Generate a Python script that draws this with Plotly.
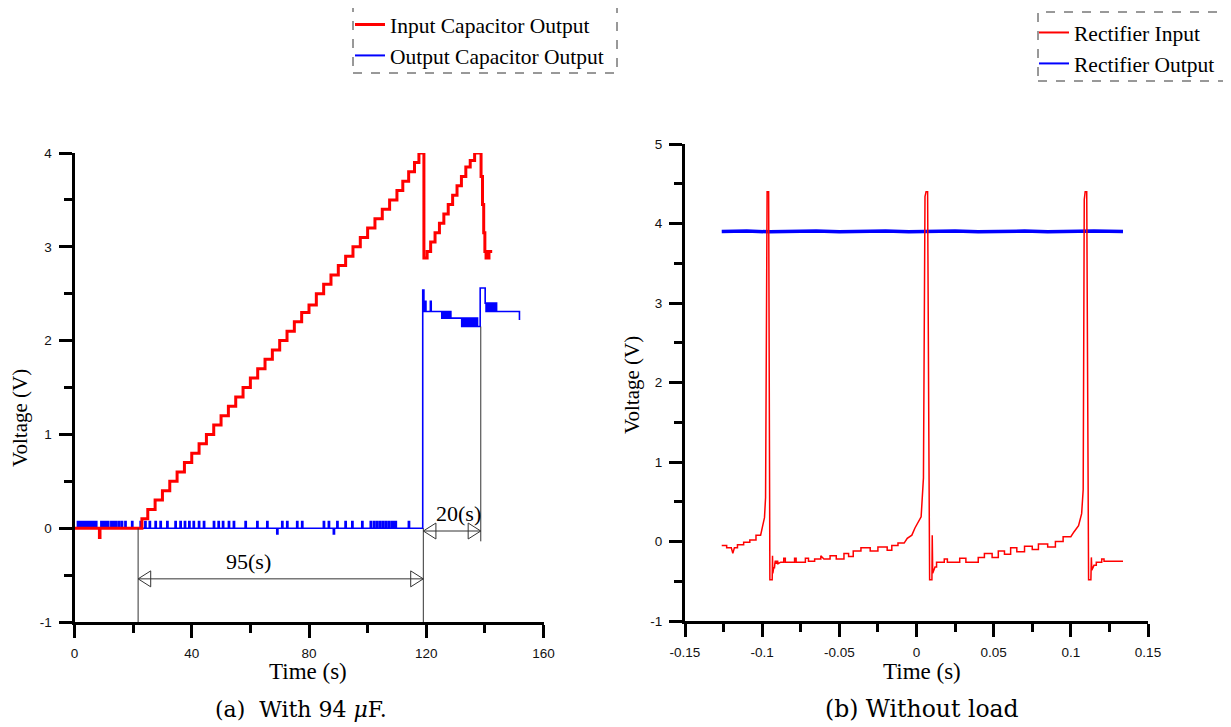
import plotly.graph_objects as go

# ---------------- data: (a) With 94 uF ----------------
# Input capacitor output (red), staircase points (line_shape hv)
in_cap_t = [0, 8.3, 8.5, 8.7, 21.7,
            23.0, 25.0, 27.5, 30.0, 32.5, 35.0, 37.5, 40.0, 42.5, 45.0,
            47.5, 50.0, 52.5, 55.0, 57.5, 60.0, 62.5, 65.0, 67.5, 70.0,
            72.5, 75.0, 77.5, 80.0, 82.5, 85.0, 87.5, 90.0, 92.5, 95.0,
            97.5, 100.0, 102.5, 105.0, 107.5, 110.0, 112.0, 114.0, 116.0, 117.5,
            119.2, 120.3, 121.5, 123.0, 124.5, 126.0, 127.5, 129.0, 130.5, 132.0,
            133.5, 135.0, 136.5, 138.7, 139.2, 139.6, 140.0, 140.4, 141.4, 142.5]
in_cap_v = [0, 0, -0.10, 0, 0,
            0.10, 0.20, 0.30, 0.40, 0.50, 0.60, 0.70, 0.80, 0.90, 1.00,
            1.10, 1.20, 1.30, 1.40, 1.50, 1.60, 1.70, 1.80, 1.90, 2.00,
            2.10, 2.20, 2.30, 2.38, 2.50, 2.60, 2.70, 2.80, 2.90, 3.00,
            3.10, 3.20, 3.30, 3.40, 3.50, 3.60, 3.70, 3.80, 3.90, 4.00,
            2.88, 2.95, 3.05, 3.15, 3.25, 3.35, 3.45, 3.55, 3.65, 3.75,
            3.85, 3.92, 4.00, 3.75, 3.45, 3.15, 2.95, 2.88, 2.95, 2.95]

# Output capacitor output (blue): baseline spikes before switching
out_spike_up_t = [1.0, 1.6, 2.3, 3.0, 3.6, 4.4, 5.0, 5.8, 6.5, 7.2, 9.0, 9.7,
                  10.5, 11.3, 12.4, 13.2, 14.0, 15.0, 16.0, 17.2, 19.5, 22.4,
                  24.0, 25.5, 27.5, 29.2, 31.5, 34.3, 36.0, 37.5, 39.0, 40.5,
                  42.3, 44.0, 47.4, 49.0, 50.5, 52.5, 54.2, 58.2, 62.2, 65.6,
                  70.7, 72.4, 75.8, 77.5, 84.9, 86.6, 89.5, 92.3, 94.6, 98.0,
                  100.9, 102.0, 103.0, 104.0, 105.0, 106.0, 107.0, 108.0, 108.8,
                  109.4, 113.9]
out_spike_up_v = 0.07
out_spike_down_t = [69.0, 88.3]
out_spike_down_v = -0.06
# Output capacitor output after switching (line_shape hv)
out_cap_t2 = [118.8, 119.2, 119.6, 119.9, 121.4, 121.7,
              125.3, 125.6, 125.9, 126.2, 126.5, 126.8, 127.1, 127.4, 127.7, 128.0, 128.4,
              132.1, 132.4, 132.7, 133.0, 133.3, 133.6, 133.9, 134.2, 134.5, 134.8,
              135.1, 135.4, 135.7, 136.0, 136.3, 136.6, 136.9, 137.2, 137.5, 137.8,
              138.4, 140.1, 140.4, 140.7, 141.0, 141.3, 141.6, 141.9, 142.2, 142.5,
              142.8, 143.1, 143.4, 143.7, 144.0, 144.5, 151.8]
out_cap_v2 = [2.54, 2.31, 2.42, 2.31, 2.42, 2.31,
              2.24, 2.31, 2.24, 2.31, 2.24, 2.31, 2.24, 2.31, 2.24, 2.31, 2.24,
              2.15, 2.24, 2.15, 2.24, 2.15, 2.24, 2.15, 2.24, 2.15, 2.24,
              2.15, 2.24, 2.15, 2.24, 2.15, 2.24, 2.15, 2.24, 2.15, 2.15,
              2.56, 2.40, 2.31, 2.40, 2.31, 2.40, 2.31, 2.40, 2.31, 2.40,
              2.31, 2.40, 2.31, 2.40, 2.31, 2.31, 2.22]

# dimension annotations (time markers, seconds)
charge_start = 21.7
charge_end = 119.0
recharge_end = 138.6
dim95_level = -0.54
dim20_level = -0.03
dim95_label = "95(s)"
dim20_label = "20(s)"
dim95_label_t = 59.2
dim20_label_t = 130.9

# ---------------- data: (b) Without load ----------------
rect_in_t = [-0.1262, -0.1230, -0.1230, -0.1200, -0.1190, -0.1180, -0.1160, -0.1160, -0.1120, -0.1120,
             -0.1080, -0.1080, -0.1040, -0.1040, -0.1010, -0.1000, -0.0985, -0.0978, -0.0972, -0.0968,
             -0.0958, -0.0954, -0.0950, -0.0935, -0.0933, -0.0931, -0.0925, -0.0920, -0.0918, -0.0915,
             -0.0912, -0.0908, -0.0905, -0.0900, -0.0897, -0.0880, -0.0860, -0.0860, -0.0850, -0.0850,
             -0.0790, -0.0790, -0.0780, -0.0780, -0.0720, -0.0720, -0.0700, -0.0700, -0.0660, -0.0660,
             -0.0620, -0.0620, -0.0600, -0.0560, -0.0560, -0.0520, -0.0520, -0.0470, -0.0470, -0.0440,
             -0.0440, -0.0410, -0.0410, -0.0360, -0.0360, -0.0300, -0.0300, -0.0250, -0.0250, -0.0190,
             -0.0190, -0.0160, -0.0160, -0.0120, -0.0120, -0.0080, -0.0060, -0.0030, -0.0010, 0.0030,
             0.0045, 0.0055, 0.0062, 0.0072, 0.0080, 0.0085, 0.0100, 0.0102, 0.0105, 0.0120,
             0.0130, 0.0130, 0.0180, 0.0180, 0.0200, 0.0200, 0.0280, 0.0280, 0.0320, 0.0320,
             0.0400, 0.0400, 0.0440, 0.0440, 0.0490, 0.0490, 0.0530, 0.0530, 0.0570, 0.0570,
             0.0610, 0.0610, 0.0650, 0.0650, 0.0700, 0.0700, 0.0750, 0.0750, 0.0790, 0.0790,
             0.0850, 0.0850, 0.0900, 0.0900, 0.0950, 0.0950, 0.1000, 0.1020, 0.1050, 0.1070,
             0.1080, 0.1087, 0.1093, 0.1103, 0.1110, 0.1115, 0.1130, 0.1133, 0.1136, 0.1150,
             0.1165, 0.1165, 0.1200, 0.1200, 0.1215, 0.1215, 0.1338]
rect_in_v = [-0.05, -0.05, -0.08, -0.08, -0.15, -0.08, -0.08, -0.04, -0.04, -0.01,
             -0.01, 0.02, 0.02, 0.08, 0.08, 0.17, 0.30, 0.55, 4.30, 4.40,
             4.40, 1.30, -0.48, -0.48, -0.18, -0.40, -0.33, -0.33, -0.28, -0.24,
             -0.28, -0.24, -0.28, -0.24, -0.28, -0.26, -0.26, -0.21, -0.21, -0.26,
             -0.26, -0.21, -0.21, -0.26, -0.26, -0.21, -0.21, -0.25, -0.25, -0.22,
             -0.22, -0.18, -0.22, -0.22, -0.18, -0.18, -0.22, -0.22, -0.15, -0.15,
             -0.19, -0.19, -0.12, -0.12, -0.08, -0.08, -0.12, -0.12, -0.07, -0.07,
             -0.11, -0.11, -0.05, -0.05, -0.02, -0.02, 0.04, 0.08, 0.17, 0.31,
             0.80, 4.34, 4.40, 4.40, 1.30, -0.48, -0.48, 0.08, -0.40, -0.32,
             -0.32, -0.26, -0.26, -0.22, -0.22, -0.26, -0.26, -0.21, -0.21, -0.26,
             -0.26, -0.20, -0.20, -0.15, -0.15, -0.20, -0.20, -0.12, -0.12, -0.16,
             -0.16, -0.08, -0.08, -0.13, -0.13, -0.06, -0.06, -0.10, -0.10, -0.03,
             -0.03, -0.07, -0.07, 0.00, 0.00, 0.06, 0.06, 0.12, 0.20, 0.35,
             0.65, 4.30, 4.40, 4.40, 1.30, -0.48, -0.48, -0.20, -0.36, -0.30,
             -0.30, -0.26, -0.26, -0.22, -0.22, -0.25, -0.25]

rect_out_t = [-0.1262, -0.110, -0.095, -0.080, -0.065, -0.050, -0.035, -0.020, -0.005,
              0.010, 0.025, 0.040, 0.055, 0.070, 0.085, 0.100, 0.115, 0.1338]
rect_out_v = [3.90, 3.905, 3.895, 3.90, 3.905, 3.895, 3.90, 3.905, 3.895,
              3.90, 3.905, 3.895, 3.90, 3.905, 3.895, 3.90, 3.905, 3.90]

# tick labels
a_xticks = [0, 40, 80, 120, 160]
a_xlabels = ["0", "40", "80", "120", "160"]
a_yticks = [-1, 0, 1, 2, 3, 4]
a_ylabels = ["-1", "0", "1", "2", "3", "4"]
b_xticks = [-0.15, -0.1, -0.05, 0, 0.05, 0.1, 0.15]
b_xlabels = ["-0.15", "-0.1", "-0.05", "0", "0.05", "0.1", "0.15"]
b_yticks = [-1, 0, 1, 2, 3, 4, 5]
b_ylabels = ["-1", "0", "1", "2", "3", "4", "5"]

RED = "#FF0000"
BLUE = "#0000FF"
# page body has an 8px margin: the figure is sized to the visible window
OFF = 8
W, H = 1231 - OFF, 727 - OFF

# build blue baseline (hv) from spike lists
spikes = sorted([(t, out_spike_up_v) for t in out_spike_up_t] +
                [(t, out_spike_down_v) for t in out_spike_down_t])
out_t = [0.0]
out_v = [0.0]
for t, v in spikes:
    out_t += [t, t + 0.4]
    out_v += [v, 0.0]
out_t += out_cap_t2
out_v += out_cap_v2

fig = go.Figure()

fig.add_trace(go.Scatter(x=out_t, y=out_v, mode="lines", line=dict(color=BLUE, width=1.6, shape="hv"),
                         showlegend=False, xaxis="x", yaxis="y"))
fig.add_trace(go.Scatter(x=in_cap_t, y=in_cap_v, mode="lines", line=dict(color=RED, width=3, shape="hv"),
                         showlegend=False, xaxis="x", yaxis="y"))

fig.add_trace(go.Scatter(x=rect_out_t, y=rect_out_v, mode="lines", line=dict(color=BLUE, width=3.5),
                         showlegend=False, xaxis="x2", yaxis="y2"))
fig.add_trace(go.Scatter(x=rect_in_t, y=rect_in_v, mode="lines", line=dict(color=RED, width=1.5),
                         showlegend=False, xaxis="x2", yaxis="y2"))

# legend entries
fig.add_trace(go.Scatter(x=[None], y=[None], mode="lines", line=dict(color=RED, width=3),
                         name="Input Capacitor Output", legend="legend"))
fig.add_trace(go.Scatter(x=[None], y=[None], mode="lines", line=dict(color=BLUE, width=2),
                         name="Output Capacitor Output", legend="legend"))
fig.add_trace(go.Scatter(x=[None], y=[None], mode="lines", line=dict(color=RED, width=2),
                         name="Rectifier Input", legend="legend2", xaxis="x2", yaxis="y2"))
fig.add_trace(go.Scatter(x=[None], y=[None], mode="lines", line=dict(color=BLUE, width=2),
                         name="Rectifier Output", legend="legend2", xaxis="x2", yaxis="y2"))

# dimension lines and open arrow heads (panel a)
GREY = "#333333"
shapes = []
def vline(t, y0, y1):
    shapes.append(dict(type="line", xref="x", yref="y", x0=t, x1=t, y0=y0, y1=y1,
                       line=dict(color=GREY, width=1)))
def hline(t0, t1, y):
    shapes.append(dict(type="line", xref="x", yref="y", x0=t0, x1=t1, y0=y, y1=y,
                       line=dict(color=GREY, width=1)))
AL, AH = 4.3, 0.085
def head(tip, y, direction):
    base = tip + direction * AL
    shapes.append(dict(type="path", xref="x", yref="y",
                       path=f"M {base},{y + AH} L {tip},{y} L {base},{y - AH} Z",
                       line=dict(color=GREY, width=1), fillcolor="rgba(0,0,0,0)"))

vline(charge_start, 0, -1)
vline(charge_end, 0, -1)
vline(recharge_end, 2.15, dim20_level - 0.11)
hline(charge_start, charge_end, dim95_level)
head(charge_start, dim95_level, 1)
head(charge_end, dim95_level, -1)
hline(charge_end, recharge_end, dim20_level)
head(charge_end, dim20_level, 1)
head(recharge_end, dim20_level, -1)

# window pixel -> paper fraction
def px(x): return (x - OFF) / W
def py(y): return 1 - (y - OFF) / H

# dashed legend boxes
shapes.append(dict(type="rect", xref="paper", yref="paper", x0=px(353), x1=px(617), y0=py(73), y1=py(5),
                   line=dict(color=GREY, width=1, dash="dash")))
shapes.append(dict(type="rect", xref="paper", yref="paper", x0=px(1038), x1=px(1228), y0=py(81), y1=py(12),
                   line=dict(color=GREY, width=1, dash="dash")))

SERIF = "Liberation Serif"
SANS = "Liberation Sans"
def note(x, y, text, size, family=SERIF, xref="paper", yref="paper", angle=0):
    return dict(x=x, y=y, xref=xref, yref=yref, text=text, showarrow=False, textangle=angle,
                xanchor="center", yanchor="middle", font=dict(family=family, size=size, color="black"))

annotations = [
    note(dim95_label_t, dim95_level + 0.19, dim95_label, 22, xref="x", yref="y"),
    note(dim20_label_t, dim20_level + 0.19, dim20_label, 22, xref="x", yref="y"),
    note(px(20), py(418), "Voltage (V)", 21, angle=-90),
    note(px(632), py(385), "Voltage (V)", 21, angle=-90),
    note(px(308), py(671), "Time (s)", 23),
    note(px(922), py(671), "Time (s)", 23),
    note(px(301), py(709), "(a)\u00a0\u00a0With 94 <i>\u03bc</i>F.", 22, family="DejaVu Serif"),
    note(px(922), py(709), "(b) Without load", 23.5, family="DejaVu Serif"),
]

axis_common = dict(showline=True, linecolor="black", linewidth=3, mirror=False, showgrid=False,
                   zeroline=False, ticks="outside", ticklen=13, tickwidth=3, tickcolor="black",
                   tickfont=dict(family=SANS, size=13.5, color="#111111"), tickmode="array",
                   automargin=False)

fig.update_layout(
    width=W, height=H, margin=dict(l=0, r=0, t=0, b=0, pad=0, autoexpand=False),
    paper_bgcolor="white", plot_bgcolor="white",
    xaxis=dict(domain=[px(74.5), px(543.5)], range=[0, 160], anchor="y",
               tickvals=a_xticks, ticktext=a_xlabels, ticklabelstandoff=4,
               minor=dict(dtick=20, tick0=0, ticks="outside", ticklen=8, tickwidth=3, tickcolor="black"),
               **axis_common),
    yaxis=dict(domain=[py(622), py(153)], range=[-1, 4], anchor="x",
               tickvals=a_yticks, ticktext=a_ylabels, ticklabelstandoff=4,
               minor=dict(dtick=0.5, tick0=0, ticks="outside", ticklen=8, tickwidth=3, tickcolor="black"),
               **axis_common),
    xaxis2=dict(domain=[px(685), px(1148)], range=[-0.15, 0.15], anchor="y2",
                tickvals=b_xticks, ticktext=b_xlabels, ticklabelstandoff=4,
                minor=dict(dtick=0.025, tick0=0, ticks="outside", ticklen=8, tickwidth=3, tickcolor="black"),
                **axis_common),
    yaxis2=dict(domain=[py(621), py(144)], range=[-1, 5], anchor="x2",
                tickvals=b_yticks, ticktext=b_ylabels, ticklabelstandoff=4,
                minor=dict(dtick=0.5, tick0=0, ticks="outside", ticklen=8, tickwidth=3, tickcolor="black"),
                **axis_common),
    legend=dict(x=px(350), y=py(4), xanchor="left", yanchor="top", bgcolor="rgba(0,0,0,0)",
                borderwidth=0, font=dict(family=SERIF, size=21.5, color="black")),
    legend2=dict(x=px(1034), y=py(12), xanchor="left", yanchor="top", bgcolor="rgba(0,0,0,0)",
                 borderwidth=0, font=dict(family=SERIF, size=21.5, color="black")),
    shapes=shapes,
    annotations=annotations,
)

fig.write_html("out.html")
